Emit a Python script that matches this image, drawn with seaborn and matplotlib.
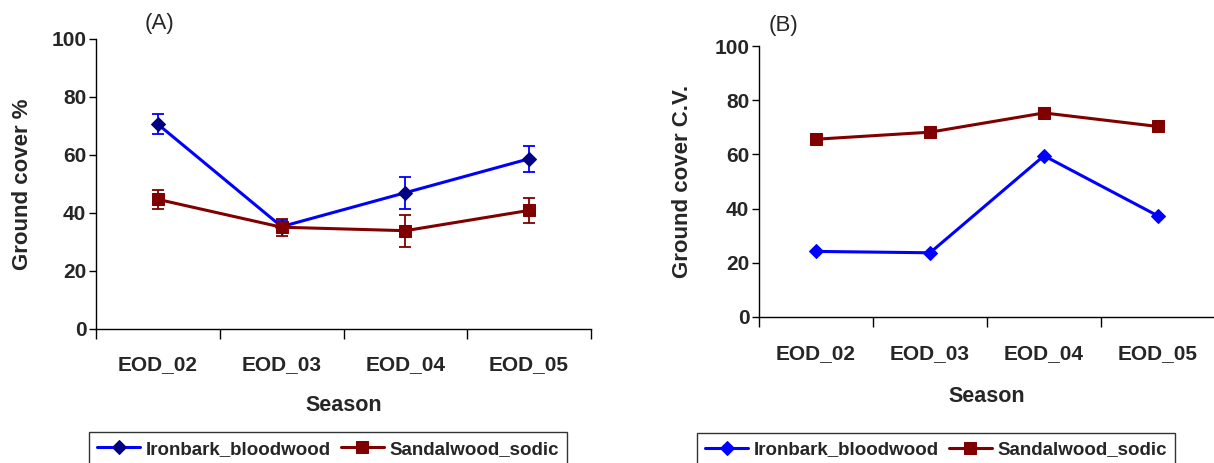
import matplotlib
matplotlib.use("Agg")
import matplotlib.pyplot as plt
import seaborn as sns
import pandas as pd
import numpy as np

seasons = ["EOD_02", "EOD_03", "EOD_04", "EOD_05"]
series_names = ["Ironbark_bloodwood", "Sandalwood_sodic"]

# Panel A: ground cover % (mean) with error bars
cover_ironbark = [70.6, 35.3, 47.0, 58.7]
cover_ironbark_err = [3.4, 2.2, 5.5, 4.5]
cover_sandal = [44.7, 35.1, 33.9, 40.9]
cover_sandal_err = [3.3, 2.9, 5.5, 4.3]

# Panel B: ground cover C.V.
cv_ironbark = [24.2, 23.7, 59.5, 37.3]
cv_sandal = [65.6, 68.2, 75.3, 70.3]

yticks = [0, 20, 40, 60, 80, 100]

sns.set_theme(style="white")
plt.rcParams['font.family'] = ['Liberation Sans', 'DejaVu Sans']

W, H = 1214, 463
fig = plt.figure(figsize=(W / 100, H / 100), dpi=100)
axA = fig.add_axes([96 / W, 1 - 329 / H, 495 / W, 290 / H])
axB = fig.add_axes([759 / W, 1 - 317 / H, 456 / W, 271 / H])

BLUE = "#0000FF"
NAVY = "#000080"
DRED = "#800000"


def style_axes(ax, ylabel, tickpad, xlabelpad, ylabelpad):
    ax.set_xlim(-0.5, 3.5)
    ax.set_ylim(0, 100)
    ax.set_yticks(yticks)
    ax.set_yticklabels([str(v) for v in yticks], fontsize=15, fontweight="bold")
    # major ticks at category boundaries, labels at centres
    ax.set_xticks([-0.5, 0.5, 1.5, 2.5, 3.5])
    ax.set_xticklabels([])
    ax.set_xticks(range(len(seasons)), minor=True)
    ax.set_xticklabels(seasons, minor=True, fontsize=15, fontweight="bold")
    ax.tick_params(axis="x", which="major", direction="out", length=7, width=1, color="black", bottom=True)
    ax.tick_params(axis="x", which="minor", length=0, pad=tickpad)
    ax.tick_params(axis="y", direction="out", length=5, width=1, color="black", left=True, pad=2)
    for s in ["top", "right"]:
        ax.spines[s].set_visible(False)
    for s in ["left", "bottom"]:
        ax.spines[s].set_color("black")
        ax.spines[s].set_linewidth(1)
    ax.set_xlabel("Season", fontsize=15.5, fontweight="bold", labelpad=xlabelpad)
    ax.set_ylabel(ylabel, fontsize=16, fontweight="bold", labelpad=ylabelpad)
    ax.grid(False)


x = np.arange(len(seasons))

# Panel A
dfA = pd.DataFrame({"x": np.concatenate([x, x]),
                    "value": cover_ironbark + cover_sandal,
                    "series": [series_names[0]] * 4 + [series_names[1]] * 4})
sns.lineplot(data=dfA[dfA.series == series_names[0]], x="x", y="value", ax=axA,
             color=BLUE, lw=2.2, marker="D", markersize=7, markerfacecolor=NAVY,
             markeredgecolor=NAVY, label=series_names[0], zorder=3)
sns.lineplot(data=dfA[dfA.series == series_names[1]], x="x", y="value", ax=axA,
             color=DRED, lw=2.2, marker="s", markersize=8, markerfacecolor=DRED,
             markeredgecolor=DRED, label=series_names[1], zorder=3)
axA.errorbar(x, cover_ironbark, yerr=cover_ironbark_err, fmt="none", ecolor=BLUE,
             elinewidth=1.3, capsize=4.5, capthick=1.3, zorder=2)
axA.errorbar(x, cover_sandal, yerr=cover_sandal_err, fmt="none", ecolor=DRED,
             elinewidth=1.3, capsize=4.5, capthick=1.3, zorder=2)
style_axes(axA, "Ground cover %", 19, 15, 13.5)

# Panel B
dfB = pd.DataFrame({"x": np.concatenate([x, x]),
                    "value": cv_ironbark + cv_sandal,
                    "series": [series_names[0]] * 4 + [series_names[1]] * 4})
sns.lineplot(data=dfB[dfB.series == series_names[0]], x="x", y="value", ax=axB,
             color=BLUE, lw=2.2, marker="D", markersize=7, markerfacecolor=BLUE,
             markeredgecolor=BLUE, label=series_names[0], zorder=3)
sns.lineplot(data=dfB[dfB.series == series_names[1]], x="x", y="value", ax=axB,
             color=DRED, lw=2.2, marker="s", markersize=8, markerfacecolor=DRED,
             markeredgecolor=DRED, label=series_names[1], zorder=3)
style_axes(axB, "Ground cover C.V.", 19.5, 16.5, 15)

fig.text(160 / W, 1 - 23 / H, "(A)", fontsize=16, ha="center", va="center")
fig.text(784 / W, 1 - 25 / H, "(B)", fontsize=16, ha="center", va="center")

for ax, bbox in [(axA, (94 / W, 0.0, (562 - 94) / W, 1 - 432 / H)),
                 (axB, (692 / W, 0.0, (1180 - 692) / W, 1 - 433 / H))]:
    h, l = ax.get_legend_handles_labels()
    ax.get_legend().remove()
    leg = fig.legend(h, l, loc="upper center", bbox_to_anchor=bbox,
                     bbox_transform=fig.transFigure, ncol=2, frameon=True,
                     fancybox=False, edgecolor="black", handlelength=2.3,
                     handletextpad=0.3, columnspacing=0.5, borderpad=0.45,
                     borderaxespad=0.0,
                     prop={"family": "Liberation Sans", "weight": "bold", "size": 13.5})
    leg.get_frame().set_linewidth(1)

fig.savefig("out.png", dpi=100)
